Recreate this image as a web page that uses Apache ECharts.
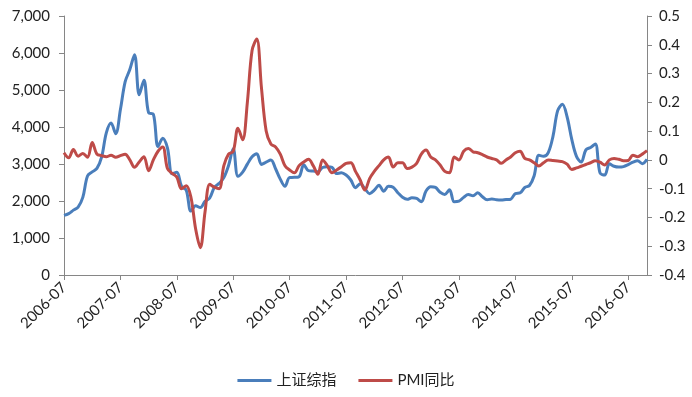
<!DOCTYPE html>
<html>
<head>
<meta charset="utf-8">
<title>上证综指 与 PMI同比</title>
<script src="https://cdn.jsdelivr.net/npm/echarts@6/dist/echarts.min.js"></script>
<style>
  html, body { margin: 0; padding: 0; background: #fff; }
  #main-chart { width: 692px; height: 397px; }
</style>
</head>
<body>
<div id="main-chart"></div>
<script>
// 月份：2006-07 ~ 2016-11
const months = [];
for (let y = 2006; y <= 2016; y++) {
  for (let m = 1; m <= 12; m++) {
    if (y === 2006 && m < 7) continue;
    if (y === 2016 && m > 11) continue;
    months.push(y + '-' + String(m).padStart(2, '0'));
  }
}

// 上证综指（左轴）
const szIndex = [
  1612, 1658, 1753, 1837, 2099, 2675, 2786, 2881, 3183, 3841, 4109, 3820,
  4471, 5218, 5552, 5954, 4871, 5262, 4383, 4348, 3473, 3693, 3433, 2736,
  2775, 2397, 2293, 1729, 1871, 1821, 1991, 2082, 2373, 2477, 2633, 2959,
  3412, 2667, 2779, 2996, 3195, 3277, 2989, 3051, 3110, 2871, 2592, 2398,
  2638, 2639, 2656, 2979, 2820, 2808, 2791, 2905, 2928, 2911, 2743, 2762,
  2701, 2568, 2359, 2469, 2333, 2199, 2292, 2428, 2263, 2397, 2373, 2225,
  2103, 2047, 2086, 2069, 1980, 2269, 2385, 2366, 2237, 2178, 2301, 1979,
  1994, 2098, 2175, 2141, 2220, 2116, 2033, 2056, 2033, 2026, 2039, 2048,
  2202, 2217, 2364, 2420, 2683, 3235, 3210, 3310, 3748, 4442, 4612, 4277,
  3664, 3206, 3053, 3383, 3446, 3539, 2760, 2700, 3004, 2938, 2917, 2930,
  2985, 3050, 3090, 3010, 3125
];

// PMI同比（右轴）
const pmiYoy = [
  0.025, 0.007, 0.036, 0.013, 0.022, 0.009, 0.06, 0.02, 0.015, 0.011, 0.016, 0.009,
  0.015, 0.02, 0.0, -0.026, -0.007, 0.011, -0.038, 0.0, 0.03, 0.045, -0.03, -0.047,
  -0.06, -0.1, -0.09, -0.13, -0.24, -0.305, -0.18, -0.085, -0.095, -0.1, -0.02, 0.02,
  0.03, 0.11, 0.07, 0.2, 0.38, 0.42, 0.25, 0.1, 0.055, 0.045, 0.02, -0.02,
  -0.035, -0.045, -0.02, -0.007, 0.002, -0.02, -0.05, 0.0, -0.02, -0.045, -0.035, -0.024,
  -0.012, -0.01, -0.04, -0.07, -0.105, -0.065, -0.04, -0.02, 0.0, 0.01, -0.025, -0.01,
  -0.01, -0.03, -0.025, -0.012, 0.02, 0.034, 0.01, 0.0, -0.018, -0.04, -0.045, 0.01,
  0.0, 0.03, 0.04, 0.028, 0.025, 0.018, 0.01, 0.005, 0.0, -0.012, 0.0, 0.01,
  0.025, 0.03, 0.005, 0.0, -0.01, -0.021, -0.01, 0.0, -0.002, -0.004, -0.006, -0.015,
  -0.033, -0.028, -0.022, -0.016, -0.01, -0.003, -0.008, -0.018, 0.0, 0.005, 0.002, -0.003,
  -0.002, 0.016, 0.011, 0.02, 0.032
];

const leftTicks = { min: 0, max: 7000, interval: 1000 };
const rightTicks = { min: -0.4, max: 0.5, interval: 0.1 };

const axisColor = '#868686';
const textColor = '#222';
const font = 'Lato, "Noto Sans CJK SC", sans-serif';

const myChart = echarts.init(document.getElementById('main-chart'));
const option = {
  animation: false,
  color: ['#4a7ebb', '#be4b48'],
  textStyle: { fontFamily: font },
  grid: { left: 64, right: 45, top: 16, bottom: 122 },
  legend: {
    bottom: 4,
    left: 'center',
    icon: 'rect',
    itemWidth: 34,
    itemHeight: 3,
    itemGap: 22,
    textStyle: { fontSize: 15, color: textColor, fontFamily: font },
    data: ['上证综指', 'PMI同比']
  },
  xAxis: {
    type: 'category',
    boundaryGap: false,
    data: months,
    axisLine: { lineStyle: { color: axisColor } },
    axisTick: { interval: 11, length: 5, lineStyle: { color: axisColor } },
    axisLabel: { interval: 11, rotate: 45, fontSize: 15, color: textColor, margin: 10 }
  },
  yAxis: [
    {
      type: 'value',
      min: leftTicks.min,
      max: leftTicks.max,
      interval: leftTicks.interval,
      splitLine: { show: false },
      axisLine: { show: true, lineStyle: { color: axisColor } },
      axisTick: { show: true, length: 5, lineStyle: { color: axisColor } },
      axisLabel: {
        fontSize: 15, color: textColor, margin: 14,
        formatter: v => v.toLocaleString('en-US')
      }
    },
    {
      type: 'value',
      min: rightTicks.min,
      max: rightTicks.max,
      interval: rightTicks.interval,
      splitLine: { show: false },
      axisLine: { show: true, lineStyle: { color: axisColor } },
      axisTick: { show: true, length: 5, lineStyle: { color: axisColor } },
      axisLabel: {
        fontSize: 15, color: textColor, margin: 12,
        formatter: v => String(+v.toFixed(1))
      }
    }
  ],
  series: [
    {
      name: '上证综指',
      type: 'line',
      yAxisIndex: 0,
      data: szIndex,
      smooth: 0.35,
      symbol: 'none',
      lineStyle: { width: 3 }
    },
    {
      name: 'PMI同比',
      type: 'line',
      yAxisIndex: 1,
      data: pmiYoy,
      smooth: 0.35,
      symbol: 'none',
      lineStyle: { width: 3 }
    }
  ]
};

myChart.setOption(option);
window.addEventListener('resize', function () {
  myChart.resize();
});
</script>
</body>
</html>
